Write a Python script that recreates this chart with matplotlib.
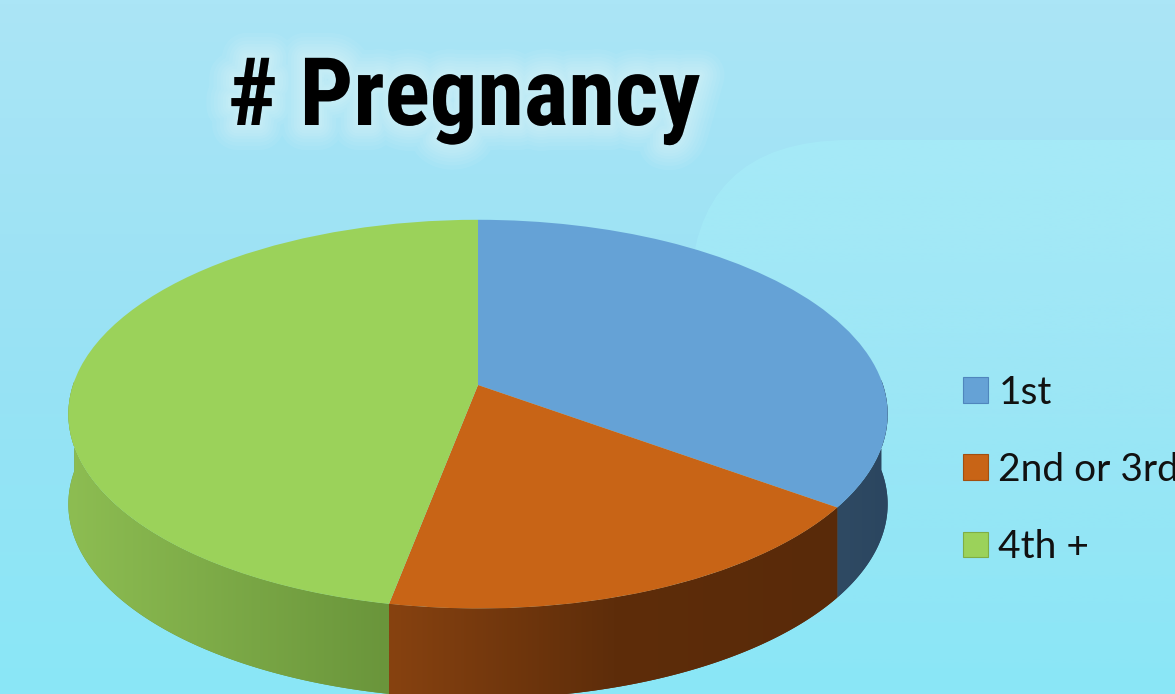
import numpy as np
import matplotlib
matplotlib.use('Agg')
import matplotlib.pyplot as plt
import matplotlib.patches as mpatches
import matplotlib.patheffects as pe
from matplotlib.colors import LinearSegmentedColormap, to_rgb
from matplotlib.transforms import Transform
from matplotlib import font_manager

# data (share of each slice, %)
categories = ['1st', '2nd or 3rd', '4th +']
shares = [35, 18, 47]

# colours: top face, legend edge, side wall (left -> right shading)
top_colors = ['#65a2d6', '#c86416', '#9bd25a']
edge_colors = ['#4f86bd', '#a24f10', '#7fae45']
wall_colors = [['#2f4a63', '#2b4660'],
               ['#874210', '#5e2d0a', '#592a09'],
               ['#8dbd52', '#6a953b']]

W, H = 1175, 694


class TiltedDisk(Transform):
    # unit disk -> pixel position, disk seen from above at an angle with a bit of perspective
    input_dims = 2
    output_dims = 2

    def __init__(self, cx, cy, a, b, k):
        super().__init__()
        self.cx, self.cy, self.a, self.b, self.k = cx, cy, a, b, k

    def transform_non_affine(self, values):
        values = np.asarray(values, dtype=float)
        u, v = values[:, 0], values[:, 1]
        w = 1 + self.k * v
        return np.column_stack([self.cx + self.a * u / w, self.cy - self.b * v / w])


available = {f.name for f in font_manager.fontManager.ttflist}
title_font = next((f for f in ['Liberation Sans Narrow', 'Roboto Condensed', 'DejaVu Sans']
                   if f in available), 'DejaVu Sans')

fig = plt.figure(figsize=(W / 100, H / 100), dpi=100)
ax = fig.add_axes([0, 0, 1, 1])

# background
bg = LinearSegmentedColormap.from_list('bg', ['#abe5f6', '#99e2f4', '#8ae7f7'])
ax.imshow(np.linspace(0, 1, 200)[:, None], cmap=bg, extent=(0, W, H, 0),
          aspect='auto', zorder=0, interpolation='bilinear')
# lighter rounded area at the upper right, fading out downwards
box = mpatches.FancyBboxPatch((690, 140), 700, 700,
                              boxstyle='round,pad=0,rounding_size=160',
                              transform=ax.transData)
haze = np.zeros((200, 1, 4))
haze[:, 0, :3] = to_rgb('#a8f0fa')
haze[:, 0, 3] = np.linspace(0.55, 0.0, 200)
hz = ax.imshow(haze, extent=(690, 1390, 700, 140), aspect='auto', zorder=0.5,
               interpolation='bilinear')
hz.set_clip_path(box)

# pie top face
wedges, _ = ax.pie(shares, colors=top_colors, startangle=90, counterclock=False,
                   labeldistance=None, wedgeprops=dict(linewidth=0, zorder=3))
disk = TiltedDisk(478, 385, 405, 190, 0.15)
for w in wedges:
    w.set_transform(disk + ax.transData)

# side walls of the front half
depth = 90
for w, cols in zip(wedges, wall_colors):
    t = np.radians(np.linspace(w.theta1, w.theta2, 300))
    t = t[np.sin(t) < 0.03]
    if len(t) < 2:
        continue
    rim = disk.transform(np.column_stack([np.cos(t), np.sin(t)]))
    poly = np.vstack([rim, rim[::-1] + [0, depth]])
    wall = mpatches.Polygon(poly, closed=True, facecolor=cols[-1],
                            edgecolor='none', zorder=2)
    ax.add_patch(wall)
    x0, x1 = poly[:, 0].min(), poly[:, 0].max()
    y0, y1 = poly[:, 1].min(), poly[:, 1].max()
    img = ax.imshow(np.linspace(0, 1, 256)[None, :],
                    cmap=LinearSegmentedColormap.from_list('w', cols),
                    extent=(x0, x1, y1, y0), aspect='auto', zorder=2.1,
                    interpolation='bilinear')
    img.set_clip_path(wall)

# title with soft glow
glow = [pe.Stroke(linewidth=lw, foreground='#eefbff', alpha=0.07, joinstyle='round')
        for lw in (36, 30, 25, 20, 16, 12, 8, 5)]
ax.text(228, 125, '# Pregnancy', fontsize=68, fontweight='bold', family=title_font,
        ha='left', va='baseline', color='black', zorder=5,
        path_effects=glow + [pe.Normal()])

# legend
handles = [mpatches.Patch(facecolor=c, edgecolor=e, linewidth=0.8)
           for c, e in zip(top_colors, edge_colors)]
ax.legend(handles, categories, loc='center left', bbox_to_anchor=(963, 470),
          bbox_transform=ax.transData, frameon=False,
          prop=dict(family='Lato', size=28), labelcolor='#111111',
          handlelength=0.64, handleheight=0.64, handletextpad=0.27,
          labelspacing=1.06, borderpad=0, borderaxespad=0)

ax.set_xlim(0, W)
ax.set_ylim(H, 0)
ax.set_aspect('auto')
ax.axis('off')

fig.savefig('out.png', dpi=100)
